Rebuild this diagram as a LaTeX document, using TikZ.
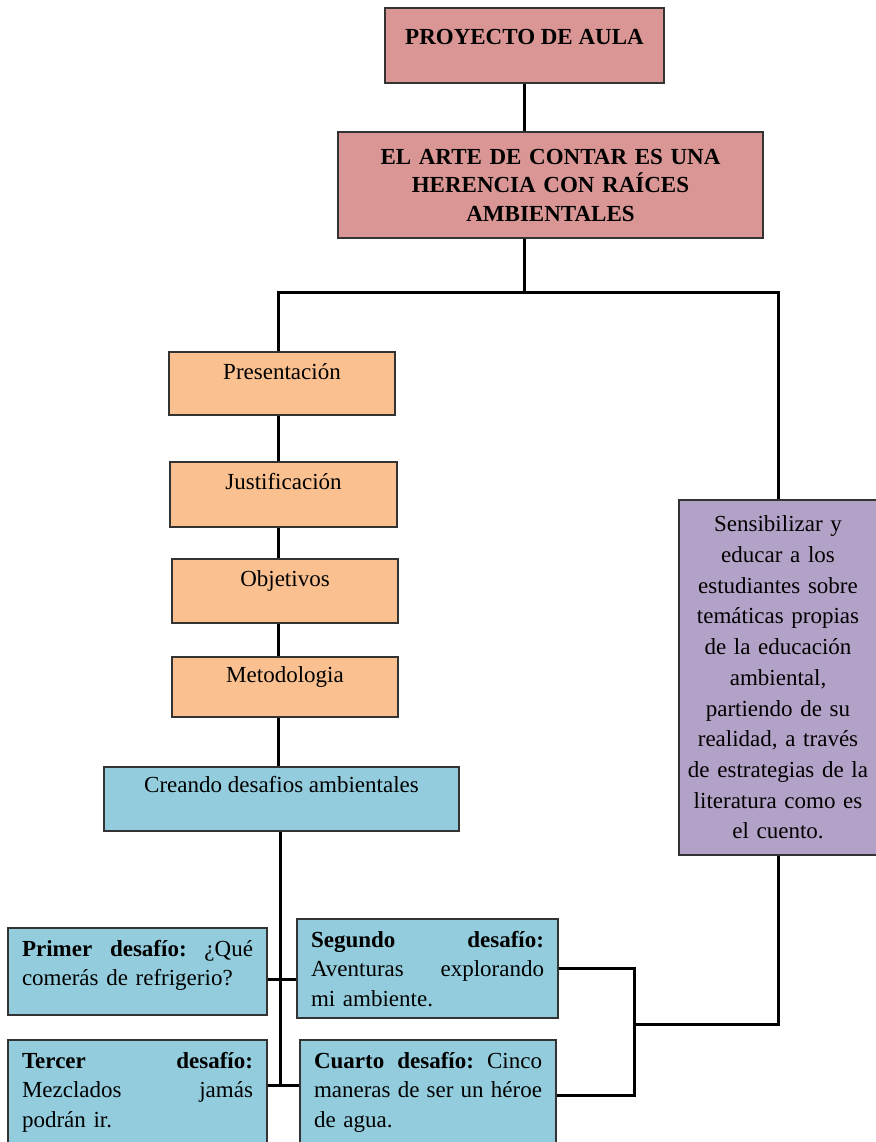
\documentclass[tikz,border=0pt]{standalone}
\usepackage{fontspec}
\setmainfont{Liberation Serif}
\usepackage{tikz}
\definecolor{rosa}{HTML}{D99694}
\definecolor{naranja}{HTML}{FAC090}
\definecolor{aguamar}{HTML}{93CDDD}
\definecolor{lila}{HTML}{B3A2C7}

\begin{document}
\begin{tikzpicture}[x=1pt,y=-1pt,
	caja/.style={draw=black!80,line width=1.2pt,rectangle,inner ysep=0pt,inner xsep=14pt,font=\fontsize{23}{29.5}\selectfont},
	titulo/.style={caja,fill=rosa,font=\fontsize{23}{28.5}\selectfont\bfseries},
	fase/.style={caja,fill=naranja,minimum width=226pt,text height=27pt},
	desafio/.style={caja,fill=aguamar,align=left,text height=28pt},
	linea/.style={line width=3pt}]
	  \useasboundingbox (0,0) rectangle (875,1142);
	  \node[titulo,minimum width=279pt,text height=37pt,text depth=38pt] (proy) at (524.5,45.5) {PROYECTO DE AULA};
	  \node[titulo,text width=397pt,align=center,minimum height=106pt] (arte) at (550.5,185) {EL ARTE DE CONTAR ES UNA\\ HERENCIA CON RAÍCES\\ AMBIENTALES};
	  \node[fase,text depth=36pt] (pres) at (282,383.5) {Presentación};
	  \node[fase,text depth=38pt,minimum width=227pt] (just) at (283.5,494.5) {Justificación};
	  \node[fase,text depth=37pt] (obj) at (285,591) {Objetivos};
	  \node[fase,text height=25pt,text depth=35pt] (met) at (285,687) {Metodologia};
	  \node[fase,fill=aguamar,minimum width=355pt,text height=25pt,text depth=39pt] (crea) at (281.5,799) {Creando desafios ambientales};
	  \node[caja,fill=lila,inner xsep=6pt,text width=186pt,align=center,minimum height=355pt,font=\fontsize{23}{30.7}\selectfont] (sens) at (778,677.5) {Sensibilizar y\\ educar a los\\ estudiantes sobre\\ temáticas propias\\ de la educación\\ ambiental,\\ partiendo de su\\ realidad, a través\\ de estrategias de la\\ literatura como es\\ el cuento.};
	  \node[desafio,text width=231pt,text depth=59pt] (primer) at (137.5,971.5) {\textbf{Primer}\hfill\textbf{desafío:}\hfill¿Qué\\ comerás de refrigerio?};
	  \node[desafio,text width=233pt,text depth=71pt] (segundo) at (427.5,968.5) {\textbf{Segundo}\hfill\textbf{desafío:}\\ Aventuras\hfill explorando\\ mi ambiente.};
	  \node[desafio,text width=231pt,text depth=82pt] (tercer) at (137.5,1095) {\textbf{Tercer}\hfill\textbf{desafío:}\\ Mezclados\hfill jamás\\ podrán ir.};
	  \node[desafio,text width=228pt,text depth=82pt] (cuarto) at (428,1095) {\textbf{Cuarto}\hfill\textbf{desafío:}\hfill Cinco\\ maneras\hfill de\hfill ser\hfill un\hfill héroe\\ de agua.};
	  \coordinate (spine) at (278,0);
	  \coordinate (split) at (524.5,292);
	  \coordinate (cruce) at (280,979);
	  \coordinate (bajo) at (280,1085);
	  \coordinate (nudo) at (634,1024);
	  \draw[linea] (proy.south) -- (proy.south |- arte.north);
	  \draw[linea] (proy.south |- arte.south) -- (split);
	  \draw[linea] (pres.north -| spine) |- (split) -| (sens.north);
	  \draw[linea] (pres.south -| spine) -- (just.north -| spine);
	  \draw[linea] (just.south -| spine) -- (obj.north -| spine);
	  \draw[linea] (obj.south -| spine) -- (met.north -| spine);
	  \draw[linea] (met.south -| spine) -- (crea.north -| spine);
	  \draw[linea] (crea.south -| bajo) -- (bajo);
	  \draw[linea] (primer.east |- cruce) -- (segundo.west |- cruce);
	  \draw[linea] (tercer.east |- bajo) -- (cuarto.west |- bajo);
	  \draw[linea] (segundo.east) -| (nudo |- cuarto.east) -- (cuarto.east);
	  \draw[linea] (nudo) -| (sens.south);
	\end{tikzpicture}
\end{document}
